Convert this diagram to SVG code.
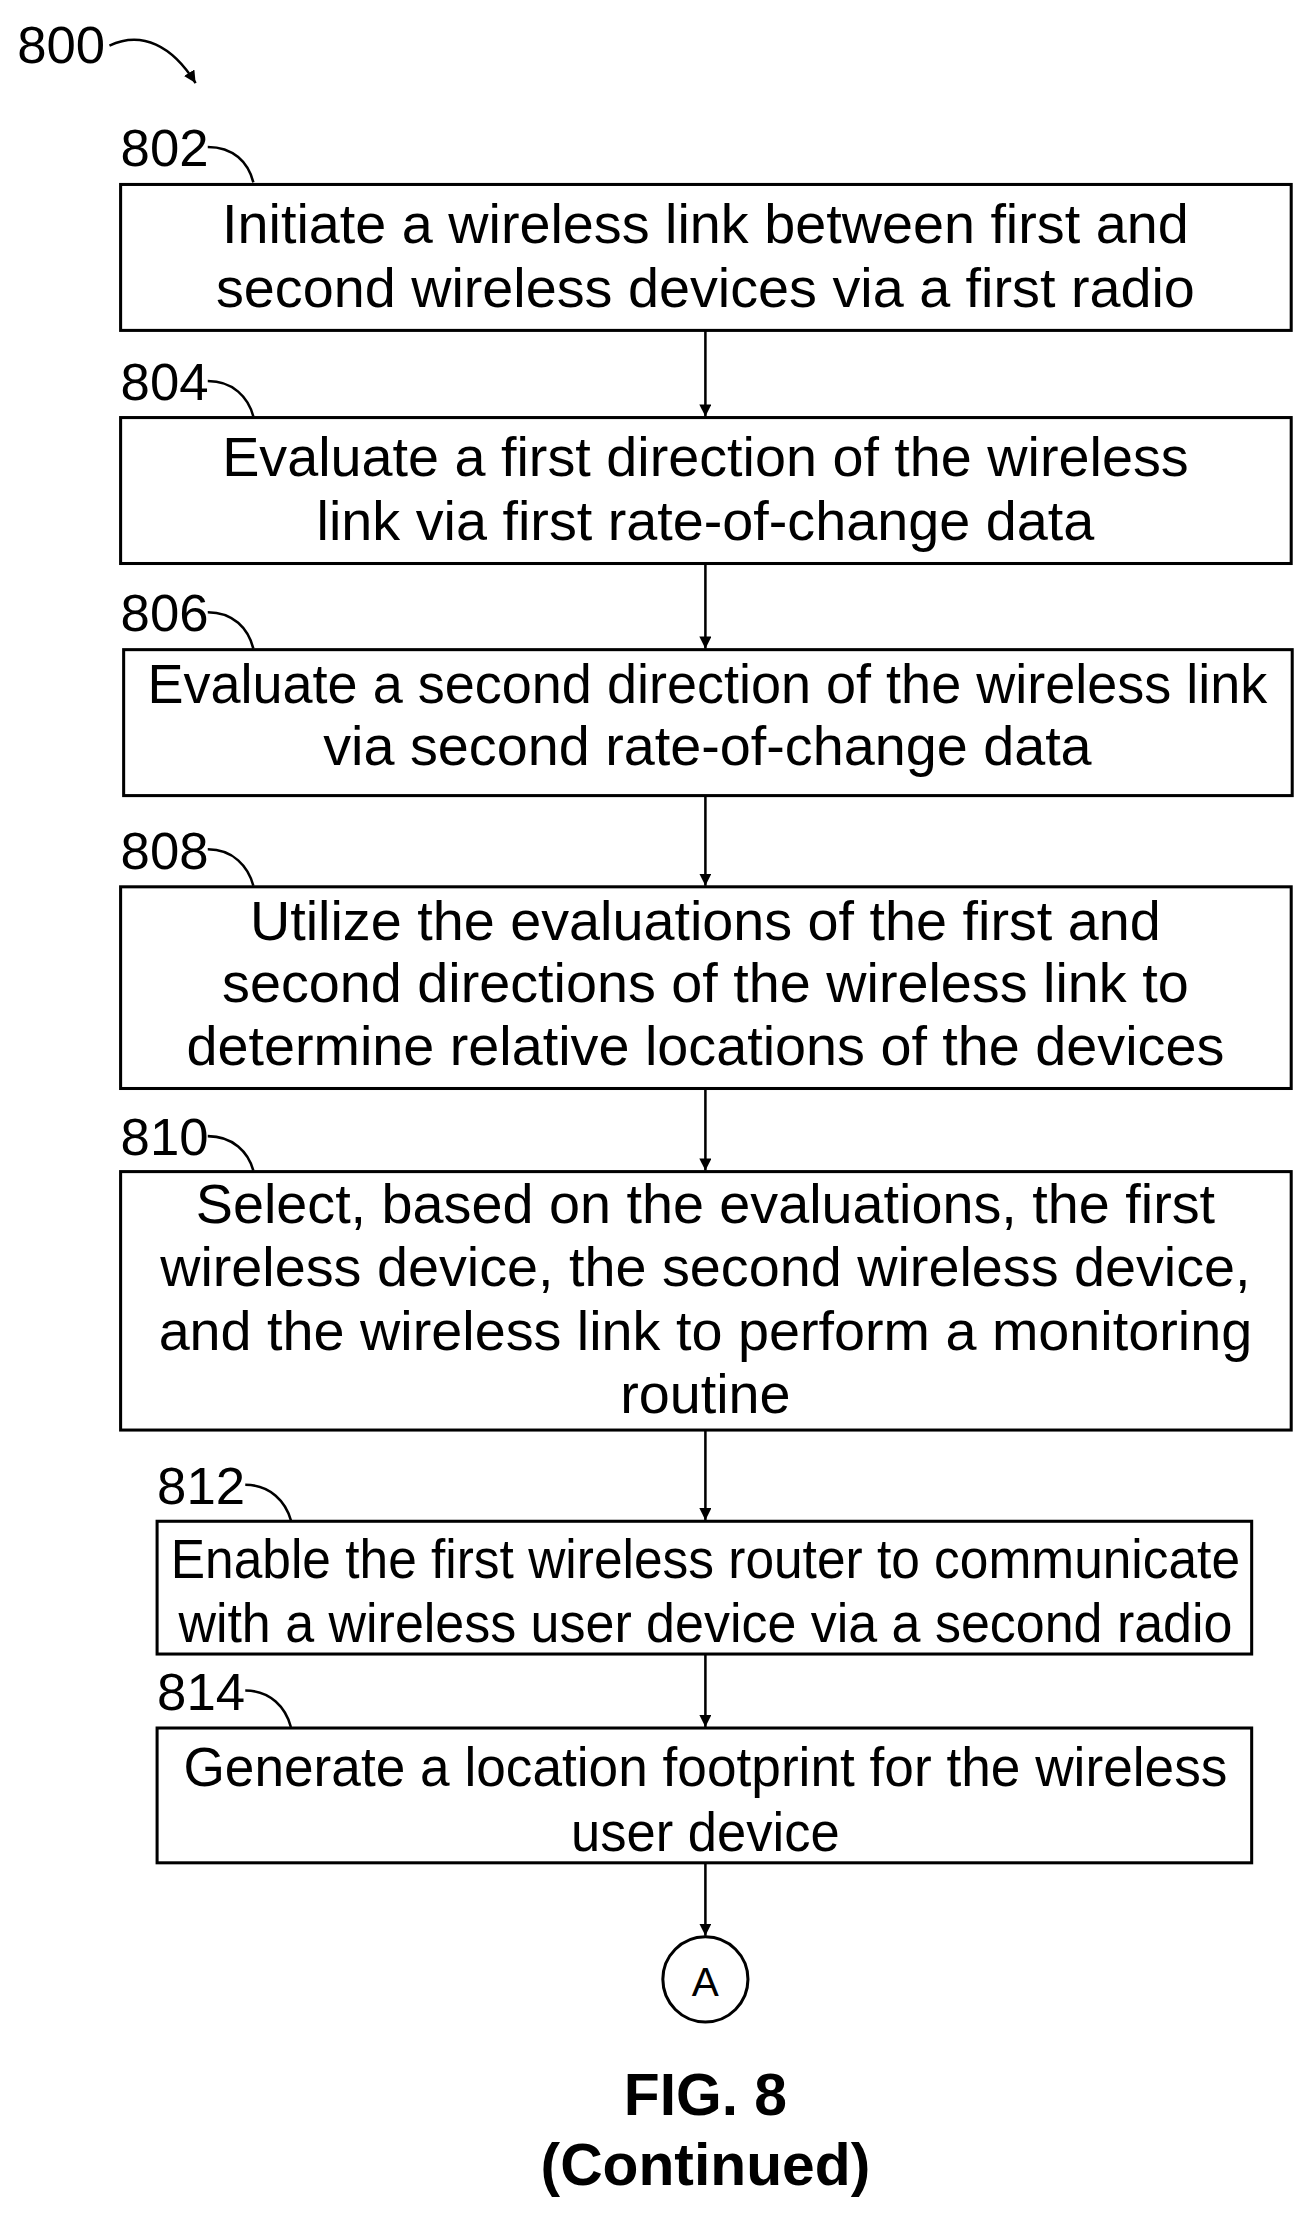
<svg xmlns="http://www.w3.org/2000/svg" width="1316" height="2224" viewBox="0 0 1316 2224">
<style>
.b{fill:#fff;stroke:#000;stroke-width:3}
.t{font-family:"Liberation Sans",Arial,sans-serif;font-size:55px;text-anchor:middle;fill:#000}
.n{font-family:"Liberation Sans",Arial,sans-serif;font-size:52px;fill:#000}
.c{fill:none;stroke:#000;stroke-width:2.5}
.a{stroke:#000;stroke-width:2.5;marker-end:url(#ah)}
</style>
<defs><marker id="ah" markerWidth="12" markerHeight="12" refX="10" refY="5" orient="auto" markerUnits="userSpaceOnUse" viewBox="0 0 10 10"><path d="M0,0 L10,5 L0,10 z"/></marker></defs>
<rect width="1316" height="2224" fill="#fff"/>
<g transform="scale(1.0135)">
<g id="label800"><text class="n" x="17" y="62">800</text><path class="c" d="M108,45 C140,30 170,45 193,82" marker-end="url(#ah)"/></g>
<g id="n802"><text class="n" x="119" y="164">802</text><path class="c" d="M205,145 C230,145 245,160 250,180"/><rect class="b" x="119" y="182" width="1155" height="144"/><text class="t" x="696" y="240">Initiate a wireless link between first and</text><text class="t" x="696" y="303">second wireless devices via a first radio</text></g>
<g id="n804"><text class="n" x="119" y="395">804</text><path class="c" d="M205,376 C230,376 245,392 250,411"/><rect class="b" x="119" y="412" width="1155" height="144"/><text class="t" x="696" y="470">Evaluate a first direction of the wireless</text><text class="t" x="696" y="533">link via first rate-of-change data</text></g>
<g id="n806"><text class="n" x="119" y="623">806</text><path class="c" d="M205,604 C230,604 245,620 250,640"/><rect class="b" x="122" y="641" width="1153" height="144"/><text class="t" x="698" y="694" textLength="1105" lengthAdjust="spacingAndGlyphs">Evaluate a second direction of the wireless link</text><text class="t" x="698" y="755">via second rate-of-change data</text></g>
<g id="n808"><text class="n" x="119" y="857">808</text><path class="c" d="M205,838 C230,838 245,855 250,874"/><rect class="b" x="119" y="875" width="1155" height="199"/><text class="t" x="696" y="927">Utilize the evaluations of the first and</text><text class="t" x="696" y="989">second directions of the wireless link to</text><text class="t" x="696" y="1051">determine relative locations of the devices</text></g>
<g id="n810"><text class="n" x="119" y="1140">810</text><path class="c" d="M205,1121 C230,1121 245,1137 250,1155"/><rect class="b" x="119" y="1156" width="1155" height="255"/><text class="t" x="696" y="1207">Select, based on the evaluations, the first</text><text class="t" x="696" y="1269">wireless device, the second wireless device,</text><text class="t" x="696" y="1332">and the wireless link to perform a monitoring</text><text class="t" x="696" y="1394">routine</text></g>
<g id="n812"><text class="n" x="155" y="1484">812</text><path class="c" d="M242,1465 C267,1465 282,1482 287,1500"/><rect class="b" x="155" y="1501" width="1080" height="131"/><text class="t" x="696" y="1557" textLength="1055" lengthAdjust="spacingAndGlyphs">Enable the first wireless router to communicate</text><text class="t" x="696" y="1620" textLength="1040" lengthAdjust="spacingAndGlyphs">with a wireless user device via a second radio</text></g>
<g id="n814"><text class="n" x="155" y="1687">814</text><path class="c" d="M242,1668 C267,1668 282,1685 287,1704"/><rect class="b" x="155" y="1705" width="1080" height="133"/><text class="t" x="696" y="1762" textLength="1030" lengthAdjust="spacingAndGlyphs">Generate a location footprint for the wireless</text><text class="t" x="696" y="1826" textLength="265" lengthAdjust="spacingAndGlyphs">user device</text></g>
<g id="connA"><circle cx="696" cy="1953" r="42" fill="#fff" stroke="#000" stroke-width="3"/><text class="t" x="696" y="1969" style="font-size:40px">A</text></g>
<g id="connectors">
<line class="a" x1="696" y1="326" x2="696" y2="411"/>
<line class="a" x1="696" y1="556" x2="696" y2="640"/>
<line class="a" x1="696" y1="785" x2="696" y2="874"/>
<line class="a" x1="696" y1="1074" x2="696" y2="1155"/>
<line class="a" x1="696" y1="1411" x2="696" y2="1500"/>
<line class="a" x1="696" y1="1632" x2="696" y2="1704"/>
<line class="a" x1="696" y1="1838" x2="696" y2="1910"/>
</g>
<g id="caption"><text class="t" x="696" y="2087" style="font-weight:bold;font-size:58px">FIG. 8</text><text class="t" x="696" y="2156" style="font-weight:bold;font-size:58px">(Continued)</text></g>
</g>
</svg>
